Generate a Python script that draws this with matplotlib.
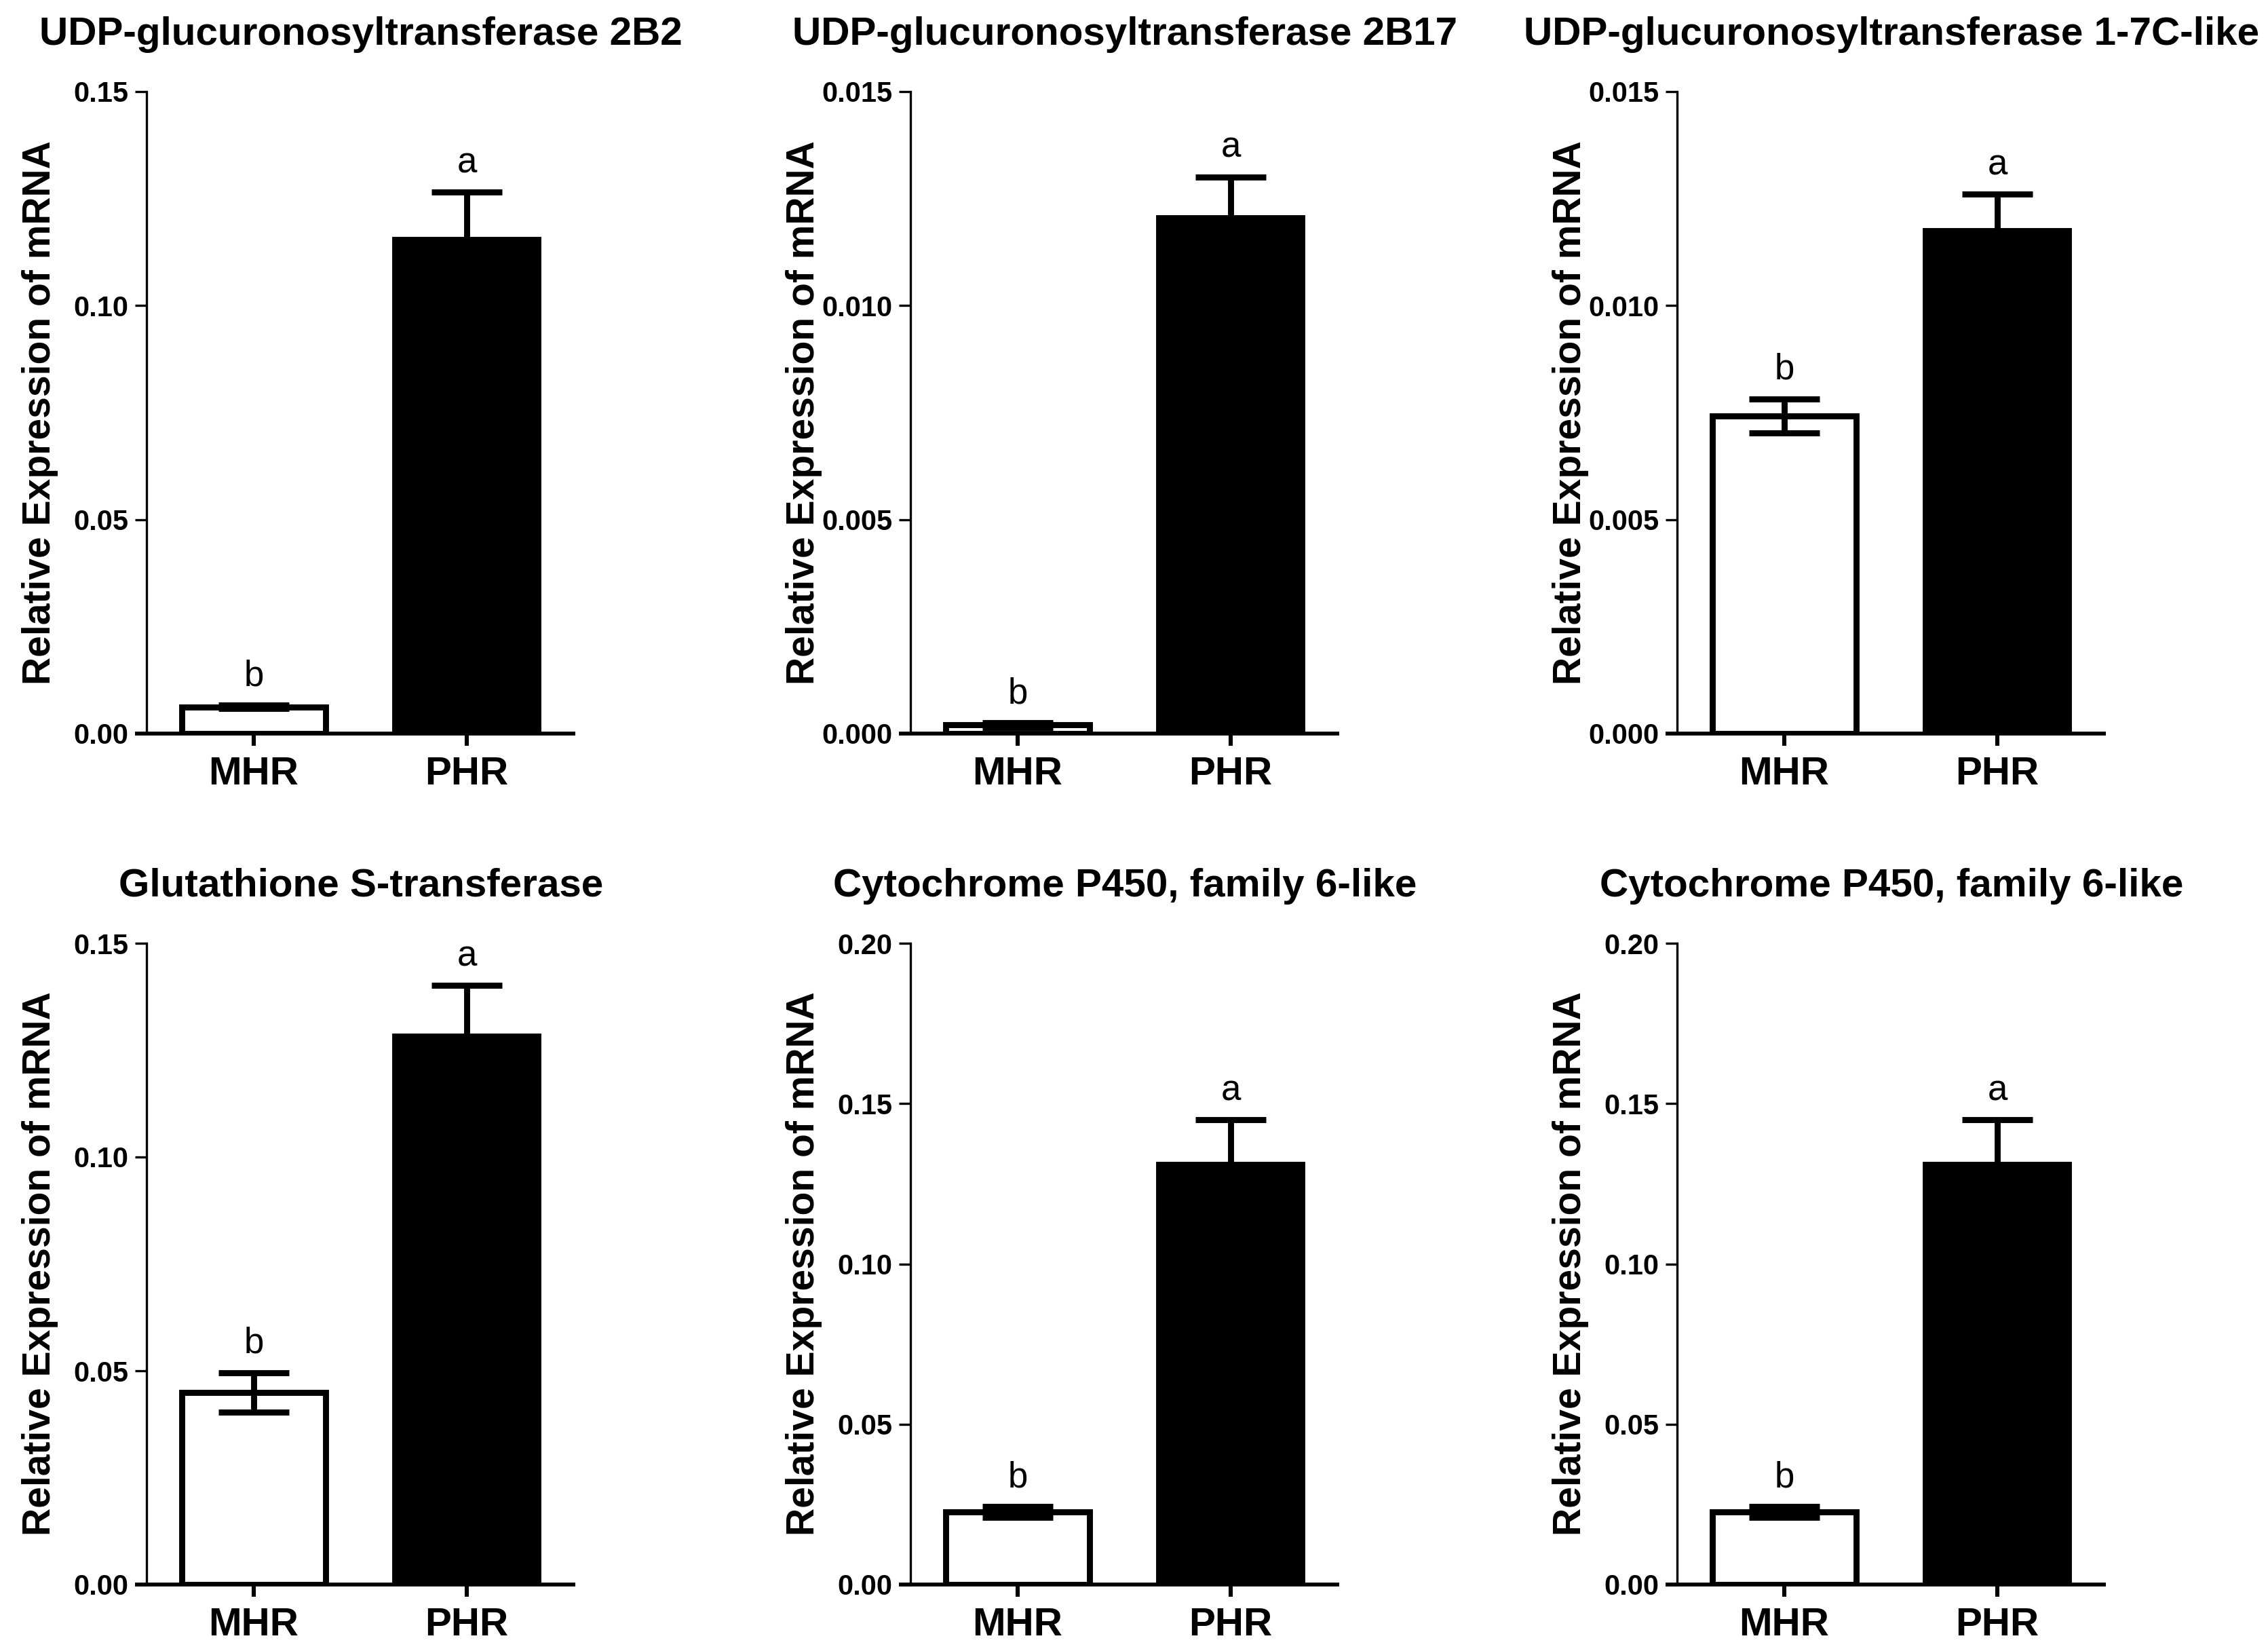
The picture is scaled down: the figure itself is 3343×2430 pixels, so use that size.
import matplotlib
matplotlib.use("Agg")
import matplotlib.pyplot as plt
from matplotlib.ticker import MultipleLocator, FormatStrFormatter

plt.rcParams['font.family'] = ['Liberation Sans', 'DejaVu Sans']

# ---------------- data ----------------
titles = [
    "UDP-glucuronosyltransferase 2B2",
    "UDP-glucuronosyltransferase 2B17",
    "UDP-glucuronosyltransferase 1-7C-like",
    "Glutathione S-transferase",
    "Cytochrome P450, family 6-like",
    "Cytochrome P450, family 6-like",
]
groups = ["MHR", "PHR"]
mhr_mean = [0.0062, 0.0002, 0.00742, 0.0449, 0.0226, 0.0226]
mhr_err = [0.0004, 0.00005, 0.0004, 0.0046, 0.0017, 0.0017]
phr_mean = [0.1154, 0.01205, 0.01175, 0.1282, 0.1311, 0.1311]
phr_err = [0.0111, 0.00095, 0.00085, 0.0119, 0.0138, 0.0138]
mhr_letter = ["b", "b", "b", "b", "b", "b"]
phr_letter = ["a", "a", "a", "a", "a", "a"]
y_max = [0.15, 0.015, 0.015, 0.15, 0.20, 0.20]
y_step = [0.05, 0.005, 0.005, 0.05, 0.05, 0.05]
y_fmt = ["%.2f", "%.3f", "%.3f", "%.2f", "%.2f", "%.2f"]
ylabel = "Relative Expression of mRNA"

# ---------------- layout ----------------
W, H, DPI = 3343, 2430, 200
fig = plt.figure(figsize=(W / DPI, H / DPI), dpi=DPI)

lefts_px = [216, 1342, 2472]
width_px = 632
rows = [(135, 1081), (1390, 2335)]  # (top, bottom) in px

xlim = (-0.5032, 1.5096)
bar_w = 0.672
edge_lw = 3.2

for i in range(6):
    r, c = divmod(i, 3)
    top, bot = rows[r]
    ax = fig.add_axes([lefts_px[c] / W, 1 - bot / H, width_px / W, (bot - top) / H])

    means = [mhr_mean[i], phr_mean[i]]
    errs = [mhr_err[i], phr_err[i]]
    ax.bar([0, 1], means, width=bar_w, color=["white", "black"],
           edgecolor="black", linewidth=edge_lw, zorder=2)
    ax.errorbar([0, 1], means, yerr=errs, fmt="none", ecolor="black",
                elinewidth=edge_lw, capsize=18.9, capthick=edge_lw, zorder=3)

    for xpos, m, e, lab in zip([0, 1], means, errs, [mhr_letter[i], phr_letter[i]]):
        ax.annotate(lab, xy=(xpos, m + e), xytext=(0, 10.5), textcoords="offset points",
                    ha="center", va="baseline", fontsize=19)

    ax.set_xlim(*xlim)
    ax.set_ylim(0, y_max[i])
    ax.yaxis.set_major_locator(MultipleLocator(y_step[i]))
    ax.yaxis.set_major_formatter(FormatStrFormatter(y_fmt[i]))
    ax.set_xticks([0, 1])
    ax.set_xticklabels(groups)

    for s in ["top", "right"]:
        ax.spines[s].set_visible(False)
    ax.spines["left"].set_linewidth(1.2)
    ax.spines["bottom"].set_linewidth(2.05)
    ax.spines["bottom"].set_bounds(xlim[0] - 0.054, xlim[1])
    ax.spines["bottom"].set_capstyle("butt")

    ax.tick_params(axis="y", direction="out", length=6.1, width=1.2, pad=3.6, labelsize=15)
    ax.tick_params(axis="x", direction="out", length=6.5, width=2.2, pad=5.5, labelsize=21)
    for lab in ax.get_yticklabels():
        lab.set_fontweight("bold")
    for lab in ax.get_xticklabels():
        lab.set_fontweight("bold")

    ax.set_ylabel(ylabel, fontsize=20.5, fontweight="bold", va="center")
    ax.yaxis.set_label_coords(-0.248, 0.5)
    ax.set_title(titles[i], fontsize=21, fontweight="bold", pad=25)

fig.savefig("out.png", dpi=DPI)
